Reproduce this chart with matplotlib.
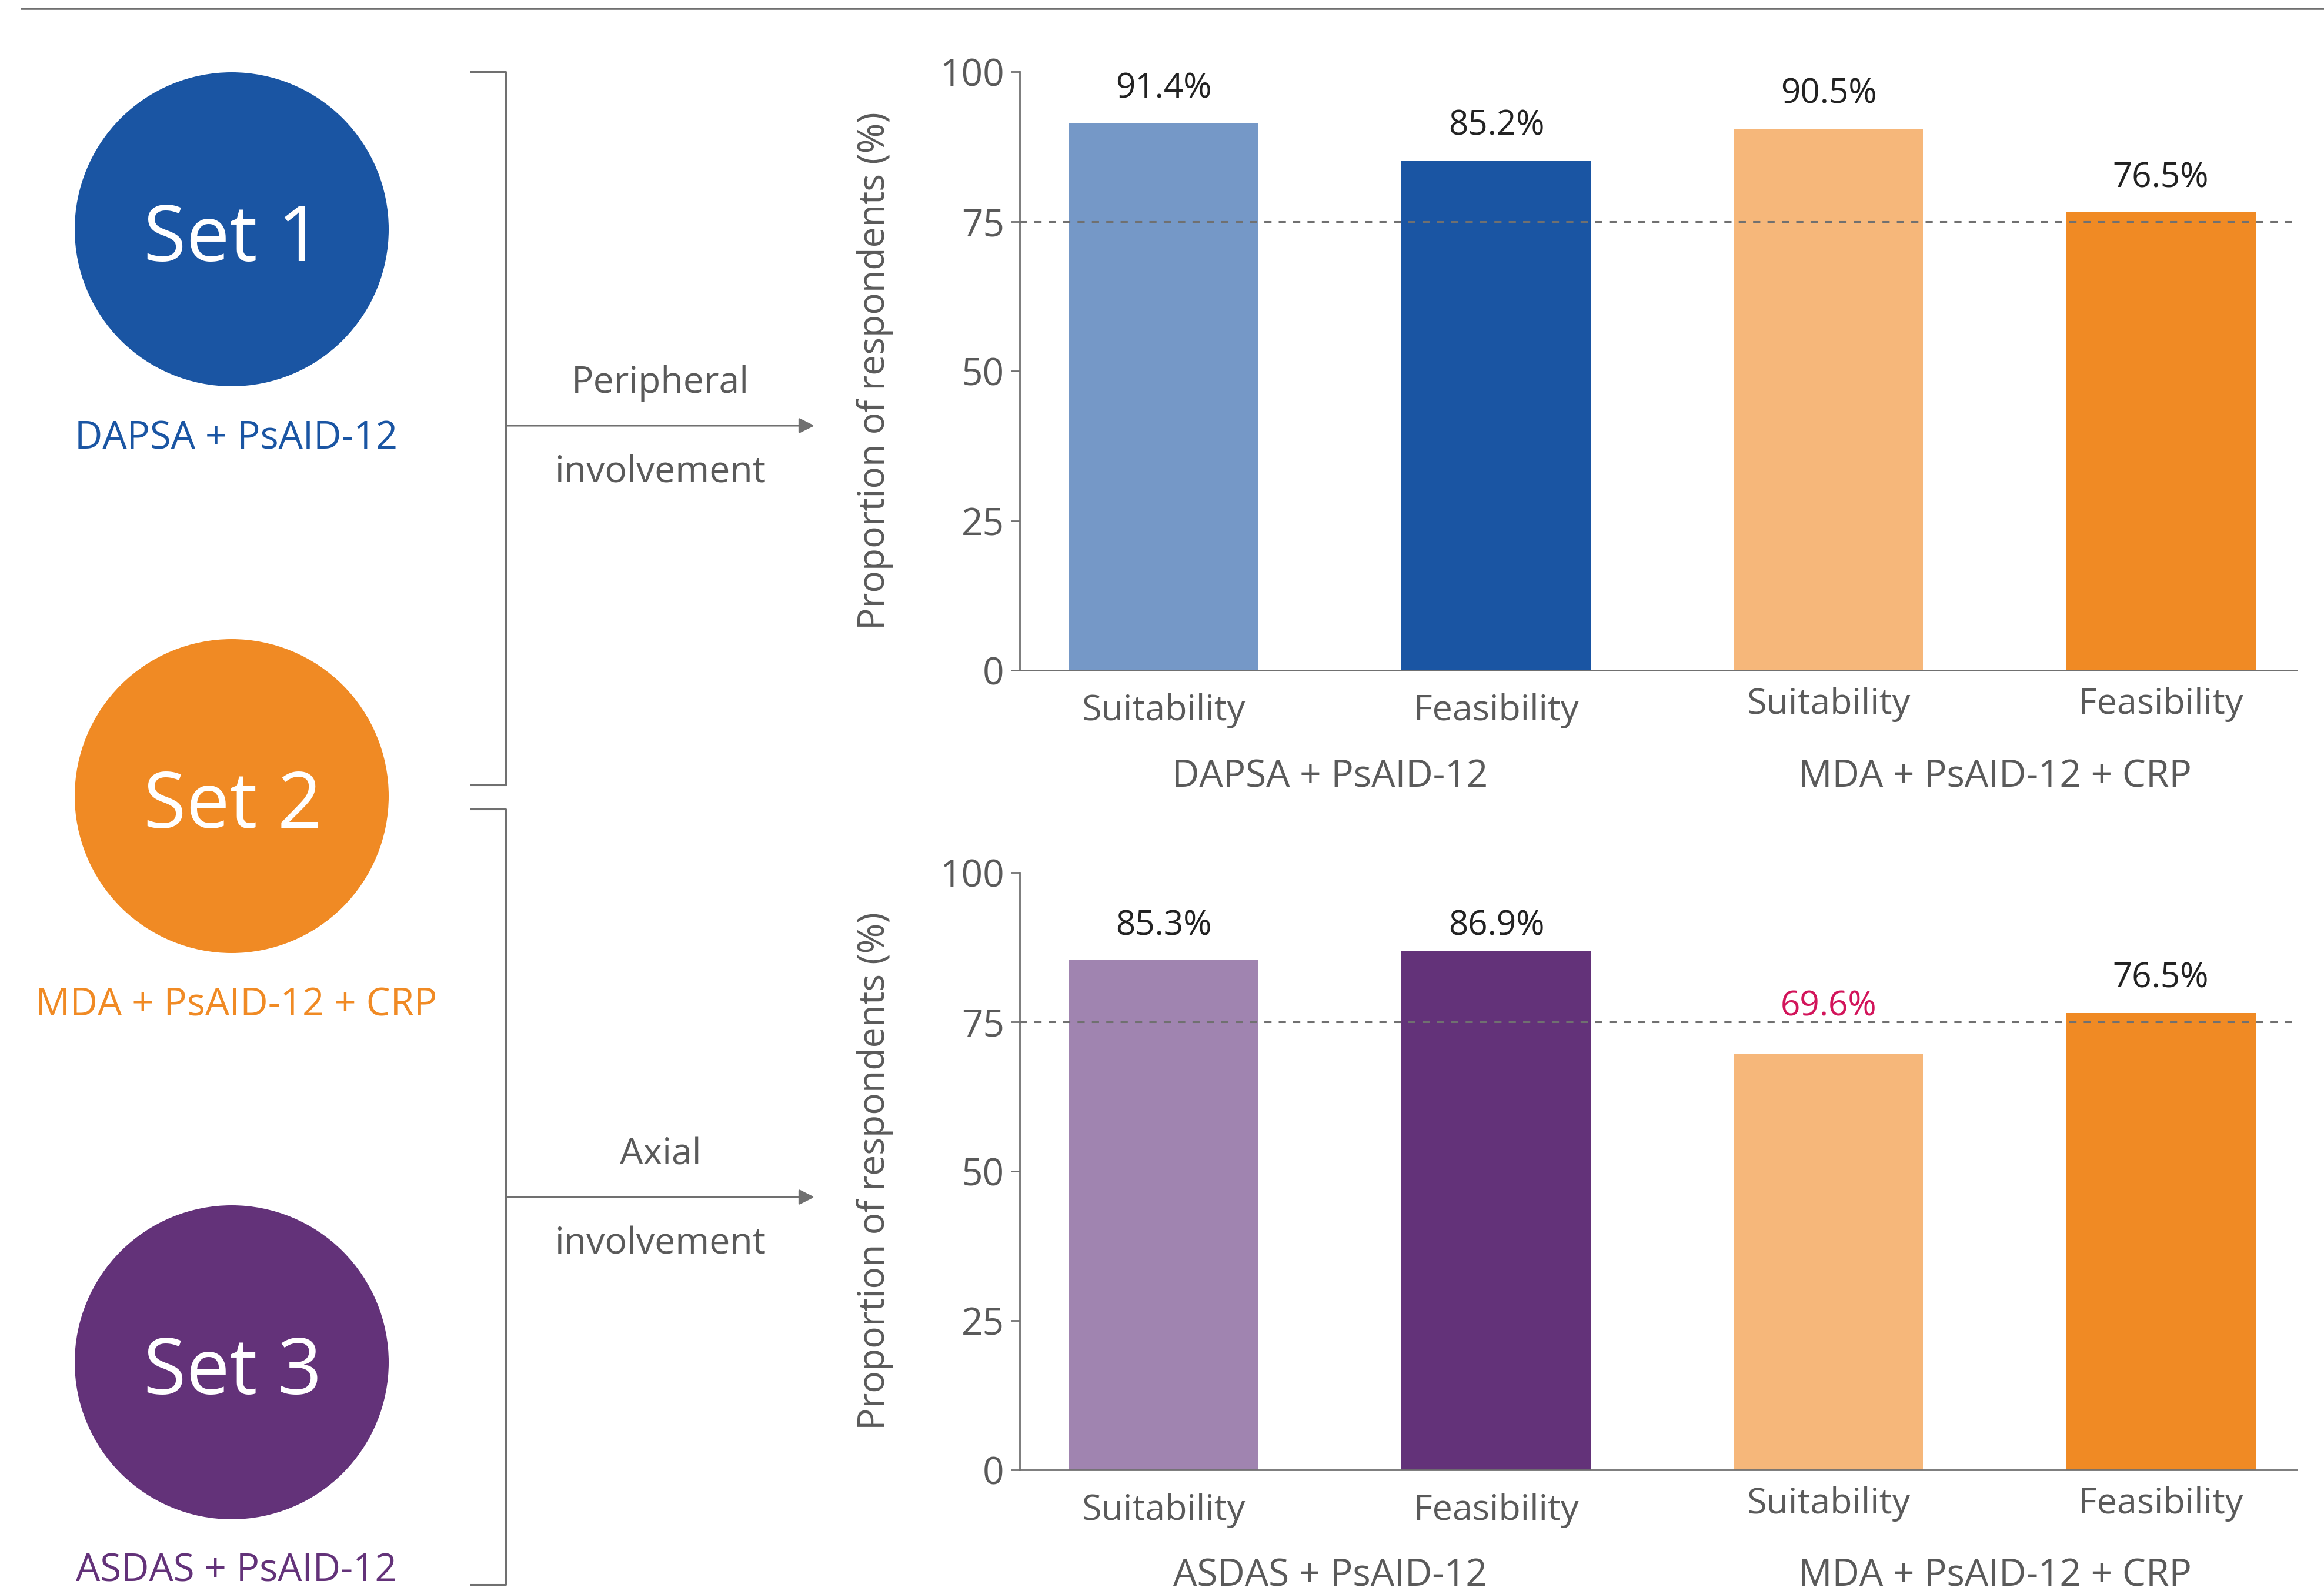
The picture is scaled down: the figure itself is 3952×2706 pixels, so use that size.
import matplotlib
import matplotlib.pyplot as plt
from matplotlib.patches import Circle

matplotlib.use("agg")

plt.rcParams["font.family"] = ["Open Sans", "DejaVu Sans"]

# survey results, % of respondents
categories = ["Suitability", "Feasibility", "Suitability", "Feasibility"]
peripheral_groups = ["DAPSA + PsAID-12", "MDA + PsAID-12 + CRP"]
axial_groups = ["ASDAS + PsAID-12", "MDA + PsAID-12 + CRP"]
peripheral_values = [91.4, 85.2, 90.5, 76.5]
axial_values = [85.3, 86.9, 69.6, 76.5]
threshold = 75
yticks = [0, 25, 50, 75, 100]

set_names = ["Set 1", "Set 2", "Set 3"]
set_labels = ["DAPSA + PsAID-12", "MDA + PsAID-12 + CRP", "ASDAS + PsAID-12"]

BLUE, LBLUE = "#1a55a3", "#7598c7"
ORANGE, LORANGE = "#f08a24", "#f6b77a"
PURPLE, LPURPLE = "#633279", "#a084b0"
GREY = "#5a5a5a"
LINE = "#707070"
RED = "#d2145a"
INK = "#222222"

set_colors = [BLUE, ORANGE, PURPLE]
peripheral_colors = [LBLUE, BLUE, LORANGE, ORANGE]
axial_colors = [LPURPLE, PURPLE, LORANGE, ORANGE]

# value-label lift above each bar, in points
peripheral_lift = [42, 42, 42, 42]
axial_lift = [42, 30, 58, 42]

W, H = 3952, 2706
fig = plt.figure(figsize=(W / 100, H / 100), dpi=100)

# pixel-space canvas for the left-hand scheme
bg = fig.add_axes([0, 0, 1, 1])
bg.set_xlim(0, W)
bg.set_ylim(H, 0)
bg.axis("off")

bg.plot([36, W], [15, 15], color=LINE, lw=2.6, solid_capstyle="butt")

for cy, name, label, col in zip([390, 1354, 2317], set_names, set_labels, set_colors):
    bg.add_patch(Circle((394, cy), 267, color=col, lw=0))
    bg.text(396, cy + 20, name, color="white", fontsize=95, ha="center", va="center")
    bg.text(402, cy + 356, label, color=col, fontsize=47, ha="center", va="center")

# brackets and arrows
for top, bot, ya, words in [(122, 1335, 724, ("Peripheral", "involvement")),
                            (1376, 2695, 2036, ("Axial", "involvement"))]:
    bg.plot([801, 860, 860, 801], [top, top, bot, bot], color=LINE, lw=2.2)
    bg.annotate("", xy=(1385, ya), xytext=(860, ya),
                arrowprops=dict(arrowstyle="-|>", color=LINE, lw=2.2,
                                mutation_scale=40, shrinkA=0, shrinkB=0))
    bg.text(1123, ya - 72, words[0], color=GREY, fontsize=45, ha="center", va="center")
    bg.text(1123, ya + 80, words[1], color=GREY, fontsize=45, ha="center", va="center")


def bar_panel(rect, values, colors, groups, label_colors, lifts):
    ax = fig.add_axes(rect)
    x = range(len(values))
    bars = ax.bar(x, values, width=0.57, color=colors, zorder=2)
    ax.axhline(threshold, color=LINE, lw=2.2, ls=(0, (4, 4)), zorder=3)
    for b, v, c, lift in zip(bars, values, label_colors, lifts):
        ax.annotate(f"{v}%", (b.get_x() + b.get_width() / 2, v), xytext=(0, lift),
                    textcoords="offset points", ha="center", va="center",
                    fontsize=42, color=c)
    ax.set_xlim(-0.434, 3.41)
    ax.set_ylim(0, 100)
    ax.set_yticks(yticks)
    ax.set_xticks(list(x), categories)
    ax.tick_params(axis="y", length=11, width=2, color=LINE, pad=8,
                   labelsize=46, labelcolor=GREY)
    ax.tick_params(axis="x", length=0, labelsize=44, labelcolor=GREY)
    for i, t in enumerate(ax.xaxis.get_major_ticks()):
        t.set_pad(28 if i < 2 else 20)
    for s in ["top", "right"]:
        ax.spines[s].set_visible(False)
    for s in ["left", "bottom"]:
        ax.spines[s].set_color(LINE)
        ax.spines[s].set_linewidth(2)
    for xg, g in zip([0.5, 2.5], groups):
        ax.text(xg, -17.8, g, ha="center", va="center", fontsize=46, color=GREY,
                clip_on=False)
    ax.set_ylabel("Proportion of respondents (%)", fontsize=45, color=GREY)
    ax.yaxis.set_label_coords(-0.099, 0.5)
    ax.patch.set_alpha(0)
    return ax


bar_panel([0.4388, 0.5787, 0.5496, 0.3762], peripheral_values, peripheral_colors,
          peripheral_groups, [INK] * 4, peripheral_lift)
bar_panel([0.4388, 0.0761, 0.5496, 0.3755], axial_values, axial_colors,
          axial_groups, [INK, INK, RED, INK], axial_lift)

fig.savefig("out.png", dpi=100)
plt.close(fig)
